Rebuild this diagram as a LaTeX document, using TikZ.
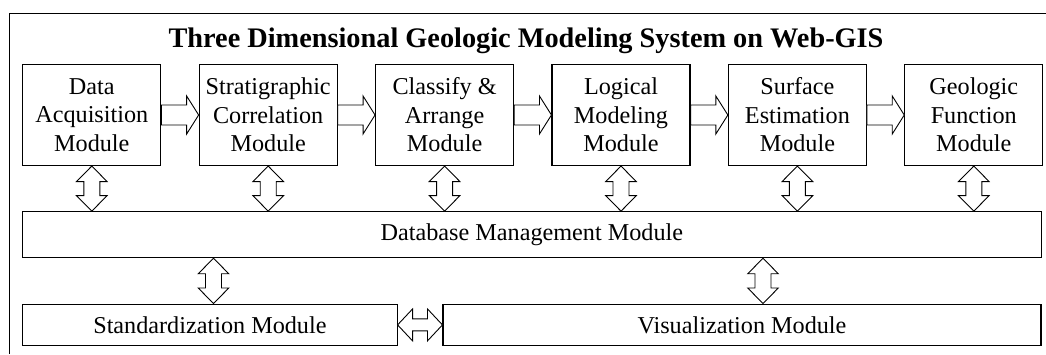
\documentclass[tikz,border=0pt]{standalone}
\usepackage{fontspec}
\setmainfont{Liberation Serif}
\usetikzlibrary{calc}

\tikzset{
  module/.style={draw, line width=1.1pt, inner sep=0pt, align=center,
    font=\fontsize{24.2}{28.5}\selectfont},
  topmodule/.style={module, minimum width=138pt, minimum height=101pt},
  blockarrow/.style={draw, line width=0.9pt, fill=white, line join=miter},
  frameline/.style={line width=1pt},
}

% arrow dimensions: shaft half-width, head half-width, head length
\newcommand\arrowdims[3]{\def\ashaft{#1}\def\ahead{#2}\def\alen{#3}}

% hollow single-headed block arrow from #1 to #2
\newcommand\singlearrow[2]{%
  \path ($(#2)!\alen!(#1)$) coordinate (sa-c);
  \draw[blockarrow] ($(#1)!\ashaft!90:(#2)$) -- ($(sa-c)!\ashaft!90:(#2)$)
    -- ($(sa-c)!\ahead!90:(#2)$) -- (#2) -- ($(sa-c)!\ahead!-90:(#2)$)
    -- ($(sa-c)!\ashaft!-90:(#2)$) -- ($(#1)!\ashaft!-90:(#2)$) -- cycle;
}

% hollow double-headed block arrow between #1 and #2
\newcommand\doublearrow[2]{%
  \path ($(#1)!\alen!(#2)$) coordinate (da-a) ($(#2)!\alen!(#1)$) coordinate (da-b);
  \draw[blockarrow] (#1) -- ($(da-a)!\ahead!90:(#2)$) -- ($(da-a)!\ashaft!90:(#2)$)
    -- ($(da-b)!\ashaft!90:(#2)$) -- ($(da-b)!\ahead!90:(#2)$) -- (#2)
    -- ($(da-b)!\ahead!-90:(#2)$) -- ($(da-b)!\ashaft!-90:(#2)$)
    -- ($(da-a)!\ashaft!-90:(#2)$) -- ($(da-a)!\ahead!-90:(#2)$) -- cycle;
}

\begin{document}
\begin{tikzpicture}[x=1pt, y=-1pt]
  \useasboundingbox (0,0) rectangle (1046,354);

  % outer frame (top and left edges)
  \draw[frameline] (1046,13.3) -- (9,13.3) -- (9,354);

  % title
  \node[anchor=base, font=\fontsize{28.3}{30}\selectfont\bfseries] (title)
    at (526,47.5) {Three Dimensional Geologic Modeling System on Web-GIS};

  % processing chain
  \node[topmodule] (b1) at (91.8,115)  {Data\\Acquisition\\Module};
  \node[topmodule] (b2) at (268.2,115) {Stratigraphic\\Correlation\\Module};
  \node[topmodule] (b3) at (444.6,115) {Classify \&\\Arrange\\Module};
  \node[topmodule] (b4) at (621.0,115) {Logical\\Modeling\\Module};
  \node[topmodule] (b5) at (797.4,115) {Surface\\Estimation\\Module};
  \node[topmodule] (b6) at (973.8,115) {Geologic\\Function\\Module};

  % database and bottom layer
  \node[module, minimum width=1018.3pt, minimum height=46pt] (db)
    at (531.9,234.7) {Database Management Module};
  \node[module, minimum width=374.3pt, minimum height=41.7pt] (std)
    at (209.9,324.9) {Standardization Module};
  \node[module, minimum width=598pt, minimum height=41.7pt] (vis)
    at (742,324.9) {Visualization Module};

  % flow between modules
  \arrowdims{10pt}{19pt}{12pt}
  \singlearrow{b1.east}{b2.west}
  \singlearrow{b2.east}{b3.west}
  \singlearrow{b3.east}{b4.west}
  \singlearrow{b4.east}{b5.west}
  \singlearrow{b5.east}{b6.west}

  % exchange with the database
  \arrowdims{8pt}{15.3pt}{15.5pt}
  \foreach \i in {1,...,6} {
    \coordinate (v\i) at (b\i.south |- db.north);
    \doublearrow{b\i.south}{v\i}
  }

  \coordinate (xs) at (213.5,0);
  \coordinate (xv) at (763,0);
  \coordinate (ds) at (xs |- db.south);
  \coordinate (ss) at (xs |- std.north);
  \coordinate (dv) at (xv |- db.south);
  \coordinate (vv) at (xv |- vis.north);
  \doublearrow{ds}{ss}
  \doublearrow{dv}{vv}

  % standardization <-> visualization
  \arrowdims{6pt}{16pt}{15pt}
  \doublearrow{std.east}{vis.west}
\end{tikzpicture}
\end{document}
